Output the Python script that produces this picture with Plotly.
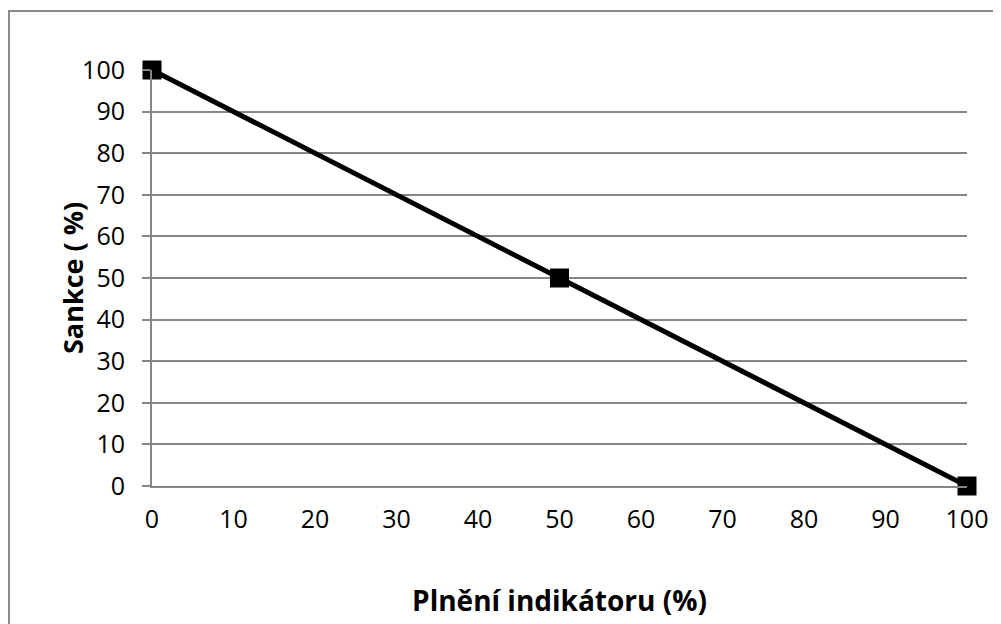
import plotly.graph_objects as go

plneni = [0, 50, 100]
sankce = [100, 50, 0]
x_ticks = list(range(0, 101, 10))
y_ticks = list(range(0, 101, 10))

# figure coordinates (page is offset by 8px body margin)
L, T = 144, 62
pw, ph = 815, 416
W, H = 993, 616
R, B = W - L - pw, H - T - ph

fig = go.Figure()
fig.add_trace(go.Scatter(
    x=plneni, y=sankce, mode="lines+markers",
    line=dict(color="black", width=5),
    marker=dict(symbol="square", size=19, color="black"),
    showlegend=False, cliponaxis=False,
))

def px_x(p):
    return (p - L) / pw

def px_y(p):
    return (H - B - p) / ph

fig.update_layout(
    width=W, height=H,
    margin=dict(l=L, r=R, t=T, b=B),
    paper_bgcolor="white", plot_bgcolor="white",
    font=dict(family="Open Sans, Liberation Sans, sans-serif", size=25, color="black"),
    xaxis=dict(range=[0, 100], tickvals=x_ticks, showgrid=False, zeroline=False,
               showline=True, linecolor="#868686", linewidth=2, automargin=False,
               ticks="", tickfont=dict(size=25), ticklabelstandoff=10,
               title=dict(text="<b>Plnění indikátoru (%)</b>", font=dict(size=28), standoff=57)),
    yaxis=dict(range=[0, 100], tickvals=y_ticks, showgrid=True, gridcolor="#868686", gridwidth=2,
               zeroline=False, showline=True, linecolor="#868686", linewidth=2, automargin=False,
               ticks="outside", ticklen=8, tickcolor="#868686", tickwidth=2,
               tickfont=dict(size=25), ticklabelstandoff=12),
    annotations=[dict(text="<b>Sankce ( %)</b>", xref="paper", yref="paper",
                      x=px_x(64), y=0.5, xanchor="center", yanchor="middle",
                      textangle=-90, showarrow=False, font=dict(size=27))],
    shapes=[dict(type="rect", xref="paper", yref="paper",
                 x0=px_x(1), x1=px_x(1010), y0=px_y(640), y1=px_y(3),
                 line=dict(color="#8c8c8c", width=2), fillcolor="rgba(0,0,0,0)", layer="below")],
)
fig.write_html("out.html")
